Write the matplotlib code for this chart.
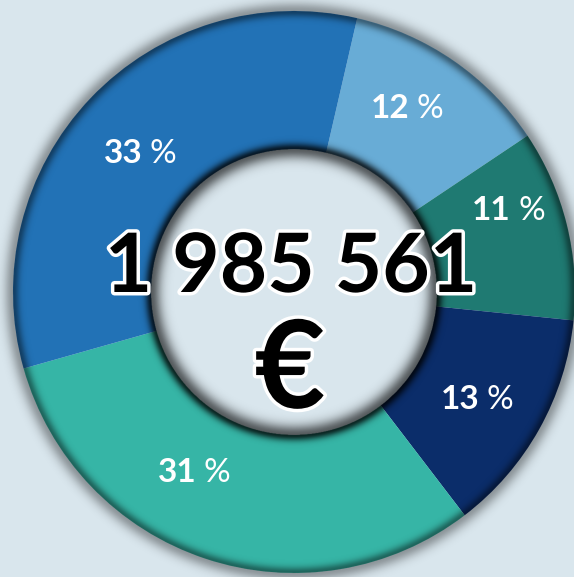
import numpy as np
import matplotlib
matplotlib.use("Agg")
import matplotlib.pyplot as plt
import matplotlib.patheffects as pe
from matplotlib.transforms import offset_copy

# ---- data ----
shares = [12, 11, 13, 31, 33]
labels = ["12", "11", "13", "31", "33"]
colors = ["#68acd6", "#1f7a72", "#0b2d6a", "#36b5a6", "#2272b6"]
total_text = "1 985 561"
currency = "€"

# ---- layout ----
W, H = 574, 577
BG = "#d9e6ed"
CX, CY = 294, 292          # centre in px (y from top)
RO, RI = 281.0, 143.0      # outer / inner radius in px
# label polar positions (deg ccw from +x, radius as fraction of outer radius)
label_pos = [(59.0, 0.772), (21.5, 0.815), (-30.0, 0.747), (240.4, 0.728), (137.7, 0.746)]

fig = plt.figure(figsize=(W / 100, H / 100), dpi=100, facecolor=BG)
ax = fig.add_axes([0, 0, 1, 1])
ax.set_facecolor(BG)

wedges, _ = ax.pie(shares, colors=colors, startangle=77, counterclock=False,
                   radius=1.0, wedgeprops=dict(width=1 - RI / RO, linewidth=0))

x0, x1 = -CX / RO, (W - CX) / RO
y0, y1 = -(H - CY) / RO, CY / RO
ax.set_xlim(x0, x1)
ax.set_ylim(y0, y1)
ax.set_aspect("auto")
ax.axis("off")

# ---- soft shadow overlay (blurred edges) ----
xs = np.linspace(x0, x1, W * 2)
ys = np.linspace(y0, y1, H * 2)
X, Y = np.meshgrid(xs, ys)
R = np.hypot(X, Y) * RO  # px
a = np.zeros_like(R)
# inner edge
d = R - RI
sig = np.where(d < 0, 10.0, 6.0)
pk = np.where(d < 0, 0.6, 0.8)
a = np.maximum(a, pk * np.exp(-(d / sig) ** 2))
# outer edge
d = R - RO
sig = np.where(d < 0, 6.0, 9.0)
pk = np.where(d < 0, 0.45, 0.35)
a = np.maximum(a, pk * np.exp(-(d / sig) ** 2))
rgba = np.zeros(R.shape + (4,))
rgba[..., 3] = a
ax.imshow(rgba, extent=(x0, x1, y0, y1), origin="lower", zorder=3,
          interpolation="bilinear", aspect="auto")

# ---- percent labels ----
for lab, (ang, rr) in zip(labels, label_pos):
    th = np.deg2rad(ang)
    x, y = rr * np.cos(th), rr * np.sin(th) - 12 / RO
    ax.text(x, y, lab, transform=offset_copy(ax.transData, fig, x=4, y=0, units="dots"),
            ha="right", va="baseline", color="white", fontsize=24,
            fontfamily="Lato", fontweight="bold", zorder=5)
    ax.text(x, y, "%", transform=offset_copy(ax.transData, fig, x=11, y=0, units="dots"),
            ha="left", va="baseline", color="white", fontsize=24,
            fontfamily="Lato", fontweight="normal", zorder=5)

# ---- centre texts ----
outline = [pe.Stroke(linewidth=5, foreground="white"), pe.Normal()]
ax.text(-3 / RO, 0.0, total_text, ha="center", va="baseline", color="black",
        fontsize=59, fontfamily="Lato", fontweight="bold", zorder=6, path_effects=outline)
ax.text(-4 / RO, -116 / RO, currency, ha="center", va="baseline", color="black",
        fontsize=88, fontfamily="Lato", fontweight="bold", zorder=6, path_effects=outline)

fig.savefig("out.png", dpi=100, facecolor=BG)
